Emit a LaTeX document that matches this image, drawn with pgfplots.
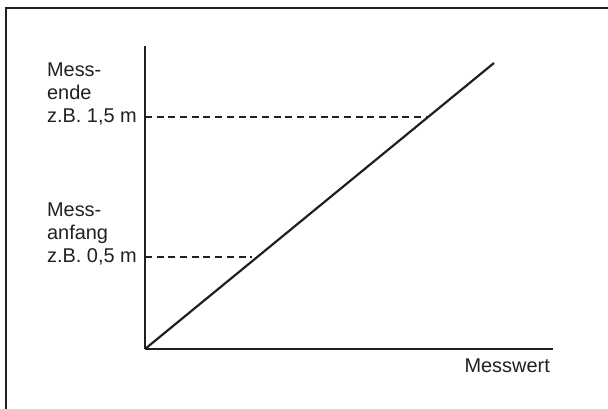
\documentclass[border=0pt]{standalone}
\usepackage{pgfplots}
\pgfplotsset{compat=1.18}
\usepackage{fontspec}
\setmainfont{Liberation Sans}
\definecolor{ink}{HTML}{231F20}
\begin{document}
\fontsize{20}{23}\selectfont
\begin{tikzpicture}
\useasboundingbox (-145bp,-60bp) rectangle (463bp,349bp);
\draw[ink, line width=2bp] (-139bp,-62bp) -- (-139bp,341bp) -- (465bp,341bp);
\begin{axis}[
  at={(0,0)}, anchor=origin,
  scale only axis, width=408bp, height=303bp,
  xmin=0, xmax=408, ymin=0, ymax=303,
  axis x line*=bottom, axis y line*=left,
  axis line style={-, ink, line width=1.3bp},
  xtick=\empty,
  ytick={92,232},
  yticklabels={{Mess-\\anfang\\z.B. 0,5 m},{Mess-\\ende\\z.B. 1,5 m}},
  major tick length=0pt,
  yticklabel style={anchor=east, align=left, inner sep=0pt, xshift=-8bp, yshift=23bp, text=ink, font=\fontsize{20}{23}\selectfont},
  xlabel={Messwert},
  xlabel style={at={(axis description cs:1,0)}, anchor=north east, inner sep=0pt, xshift=-3bp, yshift=-10bp, text=ink, font=\fontsize{20}{23}\selectfont},
  clip=false,
]
\addplot[ink, line width=2.2bp] coordinates {(0,0) (349,286)};
\addplot[ink, line width=1.2bp, dash pattern=on 7bp off 4.7bp] coordinates {(0,232) (283,232)};
\addplot[ink, line width=1.2bp, dash pattern=on 7bp off 4.7bp] coordinates {(0,92) (107,92)};
\end{axis}
\end{tikzpicture}
\end{document}
